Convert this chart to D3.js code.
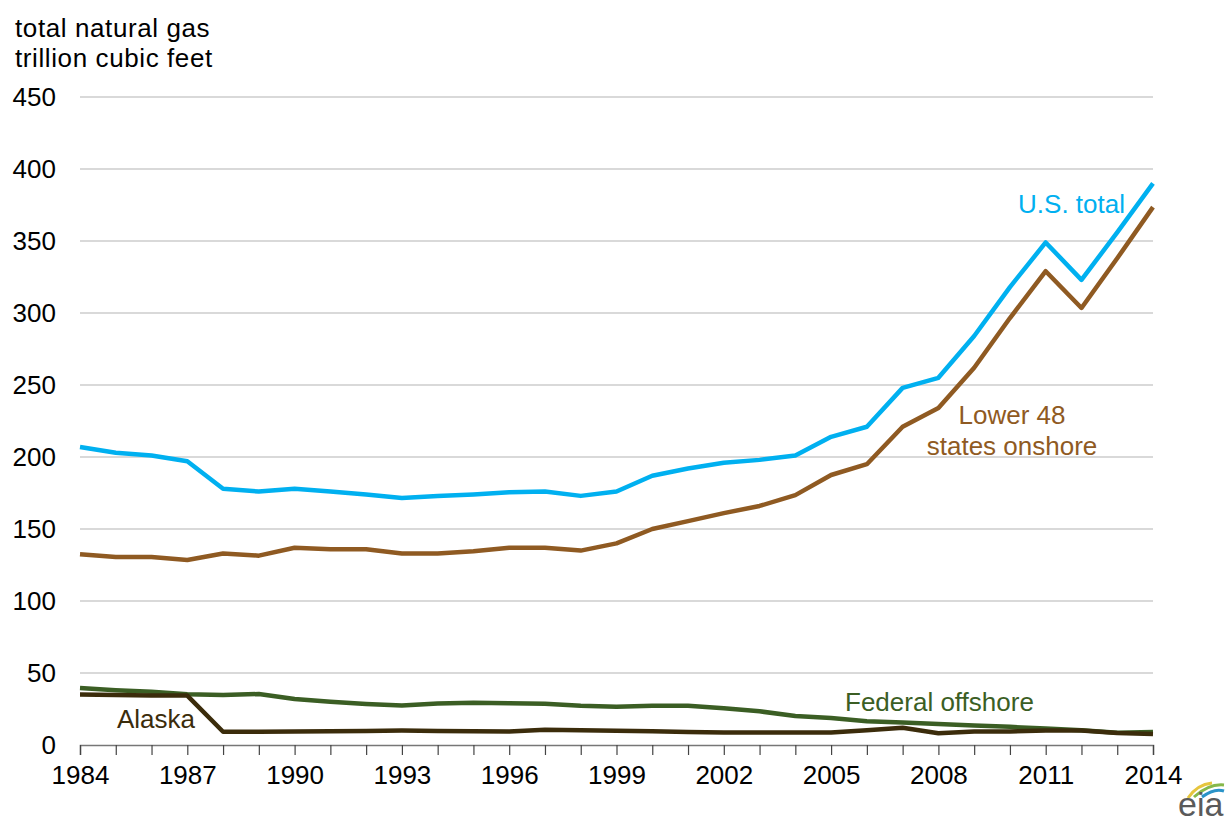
<!DOCTYPE html>
<html>
<head>
<meta charset="utf-8">
<script src="https://cdn.jsdelivr.net/npm/d3@7"></script>
<style>
  body { margin: 0; background: #fff; }
  svg text { font-family: "Liberation Sans", Arial, sans-serif; }
</style>
</head>
<body>
<svg id="chart" width="1226" height="827"></svg>
<script>
  var years = d3.range(1984, 2015);
  var usTotal = [207, 203, 201, 197, 178, 176, 178, 176, 174, 171.5, 173, 174, 175.5, 176, 173, 176,
                 187, 192, 196, 198, 201, 214, 221, 248, 255, 284, 318, 349, 323, 356, 390];
  var lower48 = [132.5, 130.5, 130.5, 128.5, 133, 131.5, 137, 136, 136, 133, 133, 134.5, 137, 137, 135, 140,
                 150, 155.5, 161, 166, 173.5, 187.5, 195, 221, 234, 262, 296.5, 329, 303.5, 338, 373.5];
  var fedOffshore = [39.5, 38, 37, 35.3, 34.8, 35.4, 32, 30, 28.5, 27.5, 28.8, 29.3, 29, 28.7, 27.2, 26.5,
                     27.3, 27.2, 25.6, 23.4, 20.2, 18.7, 16.5, 15.6, 14.6, 13.6, 12.6, 11.4, 10.3, 8.5, 9];
  var alaska = [35, 34.8, 34.3, 34.3, 9.2, 9.2, 9.3, 9.5, 9.8, 10, 9.8, 9.6, 9.4, 10.6, 10.2, 9.9,
                9.5, 9.1, 8.7, 8.6, 8.7, 8.7, 10.2, 12, 8.2, 9.3, 9.4, 10, 10, 8.3, 7.6];
  var yTicks = [0, 50, 100, 150, 200, 250, 300, 350, 400, 450];
  var xTickLabels = [1984, 1987, 1990, 1993, 1996, 1999, 2002, 2005, 2008, 2011, 2014];

(function () {
  "use strict";

  var series = [
    { name: "Federal offshore", values: fedOffshore, color: "#3b5e24" },
    { name: "Alaska", values: alaska, color: "#3b2c0b" },
    { name: "Lower 48", values: lower48, color: "#8f5a22" },
    { name: "U.S. total", values: usTotal, color: "#00b0f0" }
  ];

  var svg = d3.select("#chart");
  var plotLeft = 80, plotRight = 1153, plotTop = 97, plotBottom = 745;
  var fs = 26;

  var x = d3.scaleLinear().domain([1984, 2014]).range([plotLeft, plotRight]);
  var y = d3.scaleLinear().domain([0, 450]).range([plotBottom, plotTop]);

  // gridlines
  svg.append("g")
    .selectAll("line")
    .data(yTicks.filter(function(d){ return d > 0; }))
    .enter().append("line")
      .attr("x1", plotLeft).attr("x2", plotRight)
      .attr("y1", function(d){ return y(d); })
      .attr("y2", function(d){ return y(d); })
      .attr("stroke", "#cccccc")
      .attr("stroke-width", 1.3);

  // y axis labels
  svg.append("g")
    .selectAll("text")
    .data(yTicks)
    .enter().append("text")
      .attr("x", 56)
      .attr("y", function(d){ return y(d) + 8.5; })
      .attr("text-anchor", "end")
      .attr("font-size", fs)
      .attr("fill", "#000")
      .text(function(d){ return d; });

  // x axis
  var xAxis = d3.axisBottom(x)
    .tickValues(years)
    .tickSize(10)
    .tickFormat(function(d){ return xTickLabels.indexOf(d) >= 0 ? d : ""; });

  var gx = svg.append("g")
    .attr("transform", "translate(0," + plotBottom + ")")
    .call(xAxis);
  gx.select(".domain").attr("stroke", "#777").attr("stroke-width", 1.5);
  gx.selectAll(".tick line").attr("stroke", "#444").attr("stroke-width", 1.2);
  gx.selectAll(".tick text")
    .attr("font-size", fs)
    .attr("fill", "#000")
    .attr("font-family", "Liberation Sans, Arial, sans-serif")
    .attr("dy", "1em");

  // lines
  var line = d3.line()
    .x(function(d, i){ return x(years[i]); })
    .y(function(d){ return y(d); });

  svg.append("g")
    .selectAll("path")
    .data(series)
    .enter().append("path")
      .attr("d", function(s){ return line(s.values); })
      .attr("fill", "none")
      .attr("stroke", function(s){ return s.color; })
      .attr("stroke-width", 4.5)
      .attr("stroke-linejoin", "round");

  // titles
  svg.append("text").attr("x", 15).attr("y", 37).attr("font-size", fs)
    .attr("letter-spacing", 0.6).text("total natural gas");
  svg.append("text").attr("x", 15).attr("y", 67).attr("font-size", fs)
    .attr("letter-spacing", 0.6).text("trillion cubic feet");

  // series labels
  svg.append("text").attr("x", 1125).attr("y", 213).attr("text-anchor", "end")
    .attr("font-size", fs).attr("fill", "#00b0f0").text("U.S. total");
  svg.append("text").attr("x", 1012).attr("y", 424).attr("text-anchor", "middle")
    .attr("font-size", fs).attr("fill", "#8f5a22").text("Lower 48");
  svg.append("text").attr("x", 1012).attr("y", 455).attr("text-anchor", "middle")
    .attr("font-size", fs).attr("fill", "#8f5a22").text("states onshore");
  svg.append("text").attr("x", 845).attr("y", 711)
    .attr("font-size", fs).attr("fill", "#3b5e24").text("Federal offshore");
  svg.append("text").attr("x", 117).attr("y", 728)
    .attr("font-size", fs).attr("fill", "#3b2c0b").text("Alaska");

  // eia logo
  var logo = svg.append("g").attr("transform", "translate(1178,778)");
  logo.append("path").attr("d", "M10,20 C16,11 24,6 34,5").attr("fill", "none")
    .attr("stroke", "#e6c53e").attr("stroke-width", 3);
  logo.append("path").attr("d", "M16,19 C26,10 36,6 46,7").attr("fill", "none")
    .attr("stroke", "#86b84a").attr("stroke-width", 3);
  logo.append("path").attr("d", "M24,19 C32,13 40,11 46,13").attr("fill", "none")
    .attr("stroke", "#2a93c8").attr("stroke-width", 3);
  logo.append("text").attr("x", 0).attr("y", 38)
    .attr("font-family", "Liberation Serif, serif").attr("font-size", 34)
    .attr("fill", "#5a5a5a").text("eia");
}());
</script>
</body>
</html>
